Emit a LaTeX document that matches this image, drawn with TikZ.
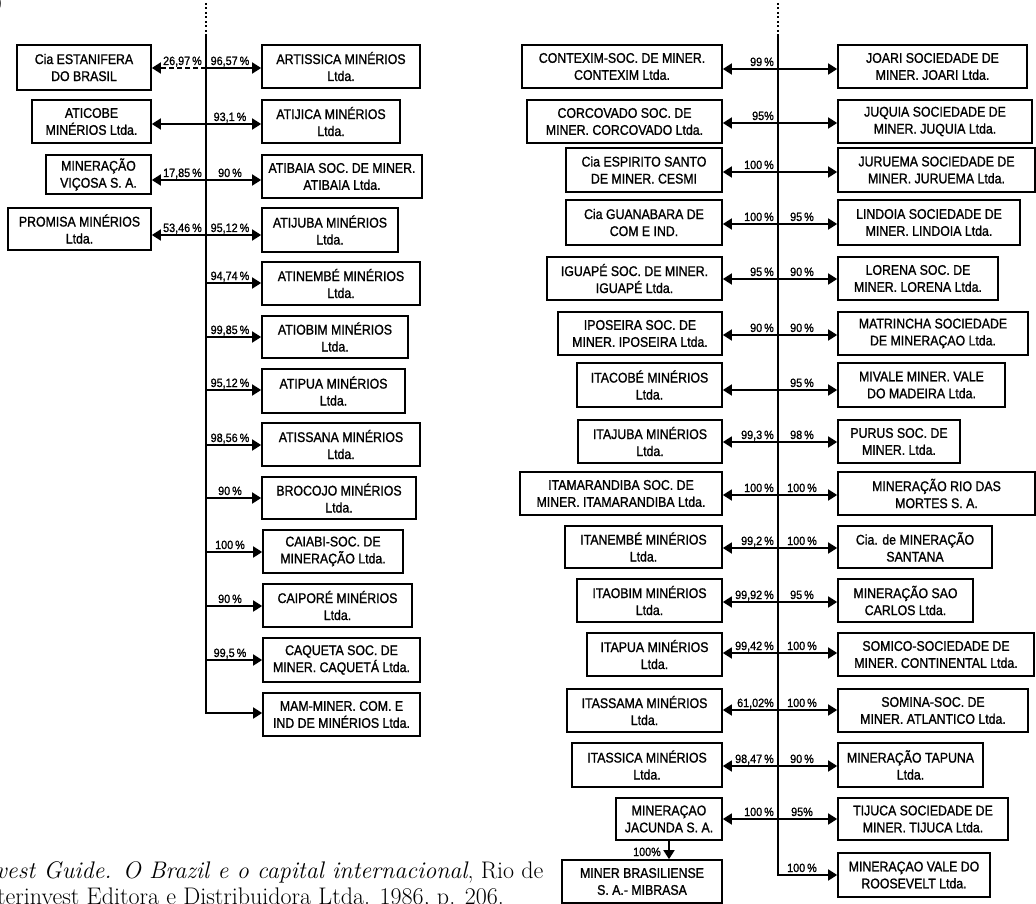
\documentclass[tikz,border=0pt]{standalone}
\usepackage{fontspec}
\newfontfamily\boxfont{Liberation Sans}[FakeStretch=0.88,FakeBold=1.2]
\newfontfamily\pctfont{Liberation Sans}[FakeStretch=0.9,FakeBold=1.2]
\usetikzlibrary{arrows.meta}
\tikzset{
  orgbox/.style={draw, line width=1.7pt, align=center, inner sep=0pt,
    font=\boxfont\fontsize{14}{17}\selectfont},
  lnk/.style={line width=1.7pt, line join=miter},
  tipr/.style={-{Triangle[length=9pt,width=11pt]}},
  tipb/.style={{Triangle[length=9pt,width=11pt]}-{Triangle[length=9pt,width=11pt]}},
  dashlnk/.style={dash pattern=on 5pt off 3pt},
  dotlnk/.style={dash pattern=on 2pt off 2.5pt},
  pct/.style={font=\pctfont\fontsize{12}{12}\selectfont, inner sep=0pt},
  citetext/.style={font=\fontsize{24}{27}\selectfont, inner sep=0pt, anchor=base west},
}
\newcommand\obox[6]{\node[orgbox, minimum width={(#3-#2)*1pt}, minimum height={(#5-#4)*1pt}] (#1) at ({(#2+#3)/2},{(#4+#5)/2}) {#6};}
\begin{document}
\begin{tikzpicture}[x=1pt,y=-1pt]
\useasboundingbox (0,0) rectangle (1036,904);
\clip (0,0) rectangle (1036,904);
\fill[white] (0,0) rectangle (1036,904);

% ---------- left group ----------
\obox{L1}{17}{151}{45}{90}{Cia ESTANIFERA\\DO BRASIL}
\obox{L2}{32}{151}{100}{143}{ATICOBE\\MINÉRIOS Ltda.}
\obox{L3}{46}{151}{155}{194}{MINERAÇÃO\\VIÇOSA S. A.}
\obox{L4}{8}{151}{208}{250}{PROMISA MINÉRIOS\\Ltda.}

\obox{R1}{262}{420}{45}{88}{ARTISSICA MINÉRIOS\\Ltda.}
\obox{R2}{262}{400}{100}{143}{ATIJICA MINÉRIOS\\Ltda.}
\obox{R3}{262}{422}{155}{198}{ATIBAIA SOC. DE MINER.\\ATIBAIA Ltda.}
\obox{R4}{262}{398}{208}{252}{ATIJUBA MINÉRIOS\\Ltda.}
\obox{R5}{262}{420}{262}{305}{ATINEMBÉ MINÉRIOS\\Ltda.}
\obox{R6}{262}{408}{316}{358}{ATIOBIM MINÉRIOS\\Ltda.}
\obox{R7}{262}{405}{369}{413}{ATIPUA MINÉRIOS\\Ltda.}
\obox{R8}{262}{420}{423}{466}{ATISSANA MINÉRIOS\\Ltda.}
\obox{R9}{262}{416}{477}{519}{BROCOJO MINÉRIOS\\Ltda.}
\obox{R10}{263}{403}{530}{573}{CAIABI-SOC. DE\\MINERAÇÃO Ltda.}
\obox{R11}{263}{412}{584}{627}{CAIPORÉ MINÉRIOS\\Ltda.}
\obox{R12}{263}{420}{638}{682}{CAQUETA SOC. DE\\MINER. CAQUETÁ Ltda.}
\obox{R13}{263}{420}{693}{736}{MAM-MINER. COM. E\\IND DE MINÉRIOS Ltda.}

\coordinate (Ldt) at (206,3);
\coordinate (Ltp) at (206,35);
\coordinate (Lbt) at (206,713);
\draw[lnk, dotlnk] (Ldt) -- (Ltp);
\draw[lnk, tipr] (Ltp) -- (Lbt) -- (R13.west |- Lbt);
\foreach \i/\y in {1/68,2/124,3/180,4/235,5/283,6/337,7/390,8/445,9/498,10/552,11/606,12/660}{
  \coordinate (a\i) at (206,\y);
  \draw[lnk, tipr] (a\i) -- (R\i.west |- a\i);
}
\draw[lnk, tipr, dashlnk] (a1) -- (L1.east |- a1);
\draw[lnk, tipr] (a2) -- (L2.east |- a2);
\draw[lnk, tipr] (a3) -- (L3.east |- a3);
\draw[lnk, tipr] (a4) -- (L4.east |- a4);

\node[pct, anchor=base east] (la1) at (202,65) {26,97\,\%};
\node[pct, anchor=base east] (la3) at (202,177) {17,85\,\%};
\node[pct, anchor=base east] (la4) at (202,232) {53,46\,\%};
\foreach \i/\y/\t in {1/68/{96,57\,\%},2/124/{93,1\,\%},3/180/{90\,\%},4/235/{95,12\,\%},
  5/283/{94,74\,\%},6/337/{99,85\,\%},7/390/{95,12\,\%},8/445/{98,56\,\%},9/498/{90\,\%},
  10/552/{100\,\%},11/606/{90\,\%},12/660/{99,5\,\%}}{
  \node[pct, anchor=base] (ra\i) at (230,\y-3) {\t};
}

% ---------- right group ----------
\obox{P1}{522}{722}{45}{88}{CONTEXIM-SOC. DE MINER.\\CONTEXIM Ltda.}
\obox{P2}{527}{722}{100}{143}{CORCOVADO SOC. DE\\MINER. CORCOVADO Ltda.}
\obox{P3}{566}{722}{148}{192}{Cia ESPIRITO SANTO\\DE MINER. CESMI}
\obox{P4}{566}{722}{200}{245}{Cia GUANABARA DE\\COM E IND.}
\obox{P5}{547}{722}{257}{300}{IGUAPÉ SOC. DE MINER.\\IGUAPÉ Ltda.}
\obox{P6}{558}{722}{312}{355}{IPOSEIRA SOC. DE\\MINER. IPOSEIRA Ltda.}
\obox{P7}{577}{722}{363}{407}{ITACOBÉ MINÉRIOS\\Ltda.}
\obox{P8}{578}{722}{420}{463}{ITAJUBA MINÉRIOS\\Ltda.}
\obox{P9}{520}{722}{472}{515}{ITAMARANDIBA SOC. DE\\MINER. ITAMARANDIBA Ltda.}
\obox{P10}{565}{722}{526}{568}{ITANEMBÉ MINÉRIOS\\Ltda.}
\obox{P11}{577}{722}{579}{622}{ITAOBIM MINÉRIOS\\Ltda.}
\obox{P12}{587}{722}{633}{676}{ITAPUA MINÉRIOS\\Ltda.}
\obox{P13}{567}{722}{689}{732}{ITASSAMA MINÉRIOS\\Ltda.}
\obox{P14}{572}{722}{743}{787}{ITASSICA MINÉRIOS\\Ltda.}
\obox{P15}{616}{722}{798}{840}{MINERAÇAO\\JACUNDA S. A.}
\obox{P16}{562}{722}{860}{903}{MINER BRASILIENSE\\S. A.- MIBRASA}

\obox{Q1}{838}{1027}{45}{88}{JOARI SOCIEDADE DE\\MINER. JOARI Ltda.}
\obox{Q2}{838}{1032}{100}{143}{JUQUIA SOCIEDADE DE\\MINER. JUQUIA Ltda.}
\obox{Q3}{838}{1035}{148}{192}{JURUEMA SOCIEDADE DE\\MINER. JURUEMA Ltda.}
\obox{Q4}{838}{1020}{200}{245}{LINDOIA SOCIEDADE DE\\MINER. LINDOIA Ltda.}
\obox{Q5}{838}{998}{257}{300}{LORENA SOC. DE\\MINER. LORENA Ltda.}
\obox{Q6}{838}{1028}{312}{355}{MATRINCHA SOCIEDADE\\DE MINERAÇAO Ltda.}
\obox{Q7}{838}{1005}{363}{407}{MIVALE MINER. VALE\\DO MADEIRA Ltda.}
\obox{Q8}{838}{960}{420}{463}{PURUS SOC. DE\\MINER. Ltda.}
\obox{Q9}{838}{1035}{472}{515}{MINERAÇÃO RIO DAS\\MORTES S. A.}
\obox{Q10}{838}{992}{526}{568}{Cia. de MINERAÇÃO\\SANTANA}
\obox{Q11}{838}{973}{579}{622}{MINERAÇÃO SAO\\CARLOS Ltda.}
\obox{Q12}{838}{1034}{633}{676}{SOMICO-SOCIEDADE DE\\MINER. CONTINENTAL Ltda.}
\obox{Q13}{838}{1028}{689}{732}{SOMINA-SOC. DE\\MINER. ATLANTICO Ltda.}
\obox{Q14}{838}{983}{743}{787}{MINERAÇÃO TAPUNA\\Ltda.}
\obox{Q15}{838}{1008}{798}{840}{TIJUCA SOCIEDADE DE\\MINER. TIJUCA Ltda.}
\obox{Q16}{838}{990}{853}{897}{MINERAÇAO VALE DO\\ROOSEVELT Ltda.}

\coordinate (Rdt) at (778,3);
\coordinate (Rtp) at (778,35);
\coordinate (b16) at (778,875);
\foreach \i/\y in {1/69,2/123,3/172,4/224,5/279,6/335,7/390,8/442,9/495,10/548,11/602,12/653,13/710,14/766,15/819}{
  \coordinate (b\i) at (778,\y);
  \draw[lnk, tipb] (P\i.east |- b\i) -- (Q\i.west |- b\i);
}
\draw[lnk, dotlnk] (Rdt) -- (Rtp);
\draw[lnk, tipr] (Rtp) -- (b16) -- (Q16.west |- b16);
\draw[lnk, tipr] (P15.south) -- (P15.south |- P16.north);

\foreach \i/\y/\t in {1/69/{99\,\%},2/123/{95\%},3/172/{100\,\%},4/224/{100\,\%},5/279/{95\,\%},
  6/335/{90\,\%},8/442/{99,3\,\%},9/495/{100\,\%},10/548/{99,2\,\%},11/602/{99,92\,\%},
  12/653/{99,42\,\%},13/710/{61,02\%},14/766/{98,47\,\%},15/819/{100\,\%}}{
  \node[pct, anchor=base east] (lb\i) at (774,\y-3) {\t};
}
\foreach \i/\y/\t in {4/224/{95\,\%},5/279/{90\,\%},6/335/{90\,\%},7/390/{95\,\%},8/442/{98\,\%},
  9/495/{100\,\%},10/548/{100\,\%},11/602/{95\,\%},12/653/{100\,\%},13/710/{100\,\%},
  14/766/{90\,\%},15/819/{95\%},16/875/{100\,\%}}{
  \node[pct, anchor=base] (rb\i) at (802,\y-3) {\t};
}
\node[pct, anchor=base east] (lm) at (661,856) {100\%};

% ---------- fragments of the page ----------
\node[anchor=base west, inner sep=0pt, font=\fontsize{18}{18}\selectfont] (frag) at (-4,9) {)};
\node[citetext] (cit1) at (-4,878) {\textit{vest Guide. O Brazil e o capital internacional}, Rio de};
\node[citetext] (cit2) at (-3,904) {terinvest Editora e Distribuidora Ltda. 1986, p. 206.};
\end{tikzpicture}
\end{document}
